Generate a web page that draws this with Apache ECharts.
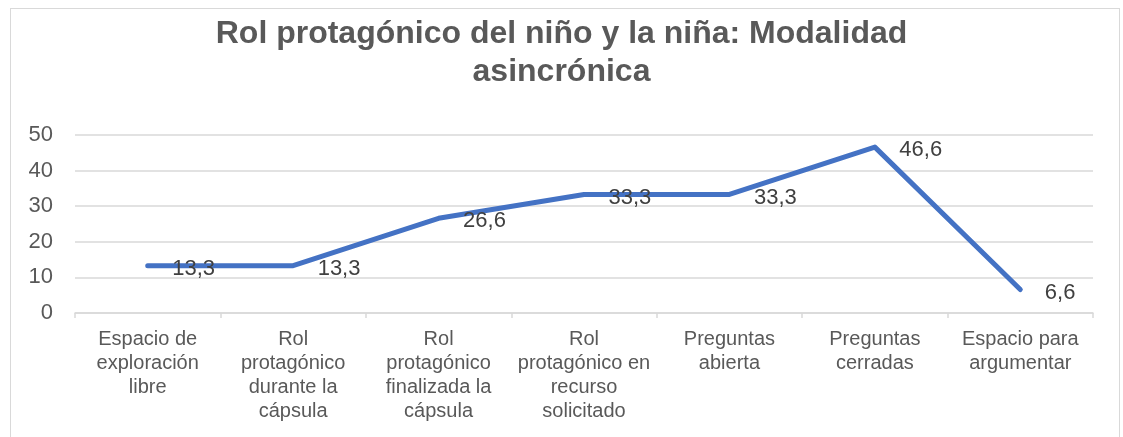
<!DOCTYPE html>
<html>
<head>
<meta charset="utf-8">
<script src="https://cdn.jsdelivr.net/npm/echarts@6/dist/echarts.min.js"></script>
<style>
  html, body { margin: 0; padding: 0; background: #fff; }
  #frame { position: absolute; left: 10px; top: 8px; width: 1110px; height: 440px; border: 1px solid #d9d9d9; box-sizing: border-box; }
  #chart { width: 1123px; height: 437px; }
</style>
</head>
<body>
<div id="frame"></div>
<div id="chart"></div>
<script>
const categories = [
  "Espacio de\nexploración\nlibre",
  "Rol\nprotagónico\ndurante la\ncápsula",
  "Rol\nprotagónico\nfinalizada la\ncápsula",
  "Rol\nprotagónico en\nrecurso\nsolicitado",
  "Preguntas\nabierta",
  "Preguntas\ncerradas",
  "Espacio para\nargumentar"
]
const values = [13.3, 13.3, 26.6, 33.3, 33.3, 46.6, 6.6]
const titleText = "Rol protagónico del niño y la niña: Modalidad\nasincrónica"

const myChart = echarts.init(document.getElementById("chart"))
myChart.setOption({
  animation: false,
  textStyle: {fontFamily: "Liberation Sans, Arial, sans-serif"},
  title: {
    text: titleText,
    left: "center",
    top: 10,
    textStyle: {
      fontSize: 32,
      fontWeight: "bold",
      color: "#595959",
      lineHeight: 38,
      fontFamily: "Liberation Sans, Arial, sans-serif"
    }
  },
  grid: {left: 75, right: 30, top: 135, bottom: 124, containLabel: false},
  xAxis: {
    type: "category",
    data: categories,
    boundaryGap: true,
    axisLine: {lineStyle: {color: "#d9d9d9", width: 1.5}},
    axisTick: {show: true, length: 5, lineStyle: {color: "#d9d9d9", width: 1.5}},
    axisLabel: {
      interval: 0,
      color: "#595959",
      fontSize: 20,
      lineHeight: 24,
      margin: 14
    }
  },
  yAxis: {
    type: "value",
    min: 0,
    max: 50,
    interval: 10,
    axisLine: {show: false},
    axisTick: {show: false},
    splitLine: {lineStyle: {color: "#d9d9d9", width: 1.5}},
    axisLabel: {color: "#595959", fontSize: 22, margin: 22}
  },
  series: [{
    type: "line",
    data: values,
    symbol: "circle",
    symbolSize: 1,
    showSymbol: true,
    lineStyle: {color: "#4472C4", width: 5, cap: "round", join: "round"},
    itemStyle: {color: "#4472C4"},
    label: {
      show: true,
      position: "right",
      distance: 24,
      offset: [0, 3],
      color: "#404040",
      fontSize: 22,
      formatter: p => String(p.value).replace(".", ",")
    }
  }]
})
</script>
</body>
</html>
